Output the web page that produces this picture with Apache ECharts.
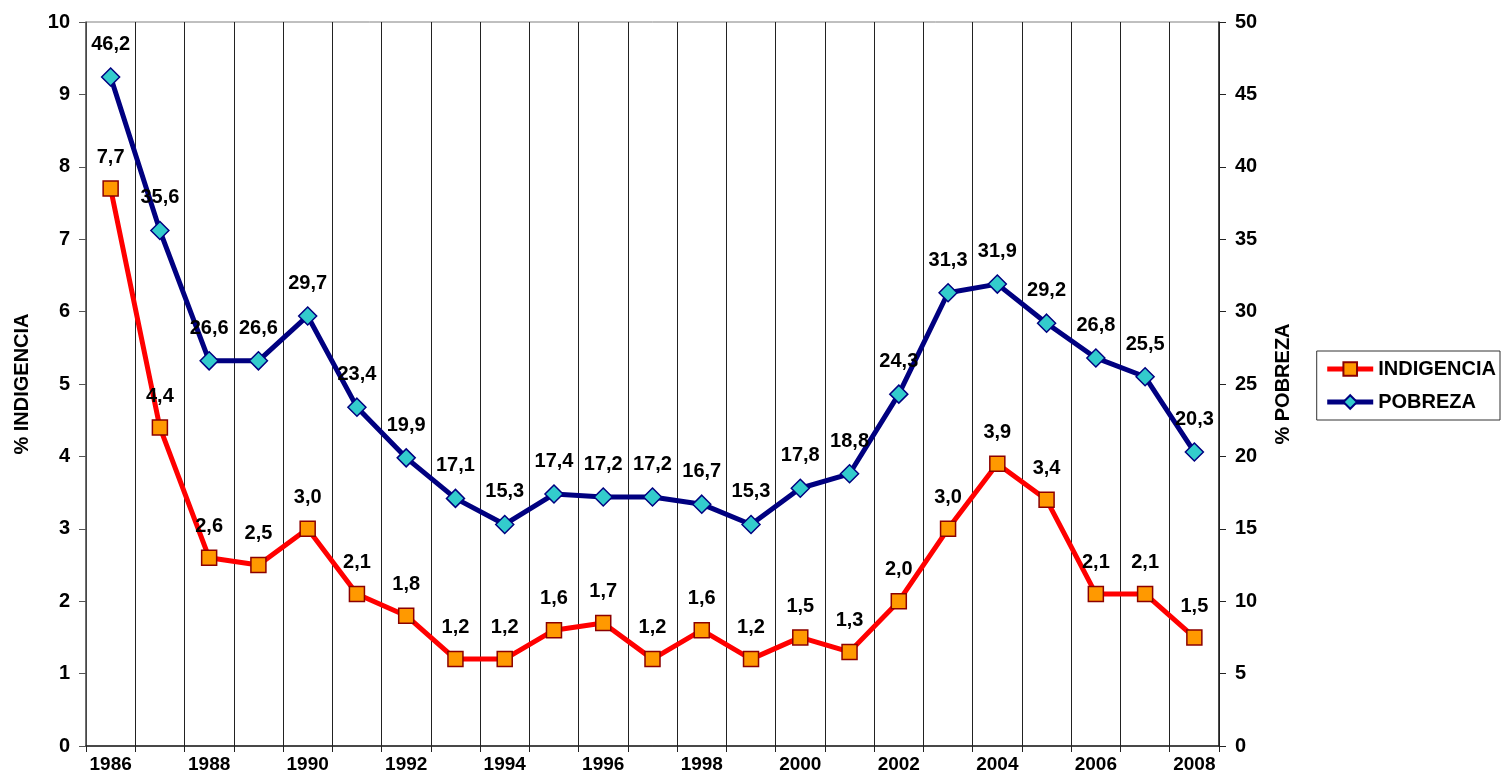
<!DOCTYPE html>
<html>
<head>
<meta charset="utf-8">
<script src="https://cdn.jsdelivr.net/npm/echarts@6/dist/echarts.min.js"></script>
<style>
  html, body { margin: 0; padding: 0; background: #fff; }
  #chart { width: 1502px; height: 778px; }
</style>
</head>
<body>
<div id="chart"></div>
<script>
const years = ['1986', '1987', '1988', '1989', '1990', '1991', '1992', '1993', '1994', '1995', '1996', '1997',
    '1998', '1999', '2000', '2001', '2002', '2003', '2004', '2005', '2006', '2007', '2008']
const indigencia = [7.7, 4.4, 2.6, 2.5, 3.0, 2.1, 1.8, 1.2, 1.2, 1.6, 1.7, 1.2, 1.6, 1.2, 1.5, 1.3, 2.0, 3.0, 3.9, 3.4, 2.1, 2.1, 1.5]
const pobreza = [46.2, 35.6, 26.6, 26.6, 29.7, 23.4, 19.9, 17.1, 15.3, 17.4, 17.2, 17.2, 16.7, 15.3, 17.8, 18.8, 24.3, 31.3, 31.9, 29.2, 26.8, 25.5, 20.3]

const font = 'Liberation Sans, Arial, sans-serif'
const fmt = p => p.value.toFixed(1).replace('.', ',')

const chart = echarts.init(document.getElementById('chart'))

const labelStyle = {
    show: true,
    position: 'top',
    distance: 13,
    formatter: fmt,
    color: '#000',
    fontFamily: font,
    fontWeight: 'bold',
    fontSize: 20,
}

chart.setOption({
    animation: false,
    grid: {
        left: 86,
        right: 283,
        top: 22,
        bottom: 32,
        outerBoundsMode: 'none',
        show: true,
        borderColor: '#808080',
        borderWidth: 1,
    },
    legend: {
        orient: 'vertical',
        right: 2,
        top: 351,
        padding: [8, 4, 8, 8],
        itemGap: 13,
        itemWidth: 46,
        itemHeight: 17,
        borderColor: '#333',
        borderWidth: 1,
        borderRadius: 0,
        lineStyle: { width: 5 },
        textStyle: { fontFamily: font, fontWeight: 'bold', fontSize: 20, color: '#000' },
        data: ['INDIGENCIA', 'POBREZA'],
    },
    xAxis: {
        type: 'category',
        data: years,
        boundaryGap: true,
        axisLine: { lineStyle: { color: '#222', width: 1.5 } },
        axisTick: { show: true, interval: 0, length: 6, lineStyle: { color: '#222' } },
        axisLabel: {
            interval: 1,
            margin: 9,
            color: '#000',
            fontFamily: font,
            fontWeight: 'bold',
            fontSize: 19,
        },
        splitLine: { show: true, interval: 0, lineStyle: { color: '#222', width: 1 } },
    },
    yAxis: [
        {
            type: 'value',
            min: 0,
            max: 10,
            interval: 1,
            name: '% INDIGENCIA',
            nameLocation: 'middle',
            nameGap: 54,
            nameRotate: 90,
            nameTextStyle: { fontFamily: font, fontWeight: 'bold', fontSize: 20, color: '#000' },
            axisLine: { show: true, lineStyle: { color: '#555', width: 1.5 } },
            axisTick: { show: true, length: 7, lineStyle: { color: '#555' } },
            axisLabel: { margin: 16, color: '#000', fontFamily: font, fontWeight: 'bold', fontSize: 20 },
            splitLine: { show: false },
        },
        {
            type: 'value',
            min: 0,
            max: 50,
            interval: 5,
            position: 'right',
            name: '% POBREZA',
            nameLocation: 'middle',
            nameGap: 54,
            nameRotate: 90,
            nameTextStyle: { fontFamily: font, fontWeight: 'bold', fontSize: 20, color: '#000' },
            axisLine: { show: true, lineStyle: { color: '#222', width: 1.5 } },
            axisTick: { show: true, length: 7, lineStyle: { color: '#222' } },
            axisLabel: { margin: 16, color: '#000', fontFamily: font, fontWeight: 'bold', fontSize: 20 },
            splitLine: { show: false },
        },
    ],
    series: [
        {
            name: 'POBREZA',
            type: 'line',
            yAxisIndex: 1,
            data: pobreza,
            symbol: 'diamond',
            symbolSize: 18,
            lineStyle: { color: '#000080', width: 5 },
            itemStyle: { color: '#33CCCC', borderColor: '#000080', borderWidth: 1.5 },
            label: labelStyle,
            z: 3,
        },
        {
            name: 'INDIGENCIA',
            type: 'line',
            yAxisIndex: 0,
            data: indigencia,
            symbol: 'rect',
            symbolSize: 15,
            lineStyle: { color: '#FF0000', width: 5 },
            itemStyle: { color: '#FF9900', borderColor: '#8B0000', borderWidth: 1.5 },
            label: labelStyle,
            z: 4,
        },
    ],
})
</script>
</body>
</html>
